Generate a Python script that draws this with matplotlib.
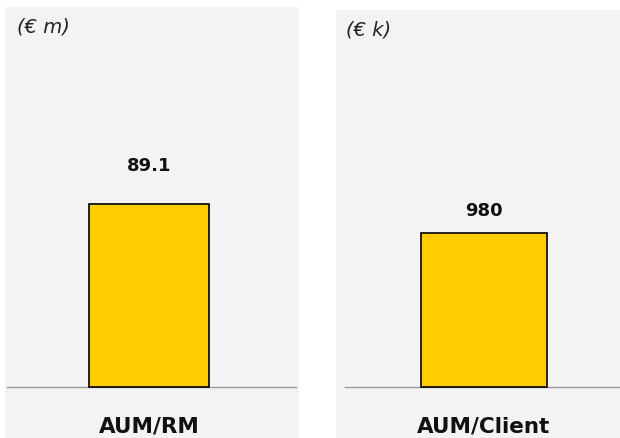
import matplotlib
matplotlib.use("Agg")
import matplotlib.pyplot as plt

# Data
categories = ["AUM/RM", "AUM/Client"]
values = [89.1, 980]
value_labels = ["89.1", "980"]
units = ["(€ m)", "(€ k)"]

W, H = 620, 438
fig = plt.figure(figsize=(W / 100, H / 100), dpi=100)
fig.patch.set_facecolor("white")

panel_bg = "#f3f3f3"
bar_color = "#ffcc00"

# panel geometry in pixels: left, top, right; bottom is the figure edge
panels = [
    dict(left=5, top=7, right=299, baseline=386.5, bar_left=89, bar_right=209,
         bar_top=204, line_from=7, line_to=296, label_gap=38, unit_x=17, unit_y=27),
    dict(left=336, top=10, right=620, baseline=386.5, bar_left=421, bar_right=547,
         bar_top=233, line_from=345, line_to=620, label_gap=22, unit_x=346, unit_y=30),
]
cat_label_y = 426  # pixel row of the category labels

for i, p in enumerate(panels):
    w_px = p["right"] - p["left"]
    h_px = H - p["top"]
    ax = fig.add_axes([p["left"] / W, 0, w_px / W, h_px / H])
    ax.set_facecolor(panel_bg)
    for s in ax.spines.values():
        s.set_visible(False)
    ax.set_xticks([])
    ax.set_yticks([])

    # scales: bar width 0.8 data units, value maps to bar height
    bar_w = 0.8
    px_per_x = (p["bar_right"] - p["bar_left"]) / bar_w
    centre = (p["bar_left"] + p["bar_right"]) / 2
    ax.set_xlim(-(centre - p["left"]) / px_per_x, (p["right"] - centre) / px_per_x)
    px_per_y = (p["baseline"] - p["bar_top"]) / values[i]
    base_above = H - p["baseline"]
    ax.set_ylim(-base_above / px_per_y, (h_px - base_above) / px_per_y)

    ax.bar([0], [values[i]], width=bar_w, color=bar_color,
           edgecolor="black", linewidth=1.2, zorder=3)

    # baseline
    ax.axhline(0, xmin=(p["line_from"] - p["left"]) / w_px,
               xmax=(p["line_to"] - p["left"]) / w_px,
               color="#999999", linewidth=1.0, zorder=2)

    # value label
    ax.annotate(value_labels[i], xy=(0, values[i]), xytext=(0, p["label_gap"]),
                textcoords="offset pixels", ha="center", va="center",
                fontsize=13, fontweight="bold", color="#111111")

    # category label
    ax.text(0, -(cat_label_y - p["baseline"]) / px_per_y, categories[i],
            ha="center", va="center",
            fontsize=15.5, fontweight="bold", color="#111111")

    # unit label
    fig.text(p["unit_x"] / W, 1 - p["unit_y"] / H, units[i], ha="left", va="center",
             fontsize=14, fontstyle="italic", color="#222222")

fig.savefig("out.png", dpi=100, facecolor=fig.get_facecolor())
